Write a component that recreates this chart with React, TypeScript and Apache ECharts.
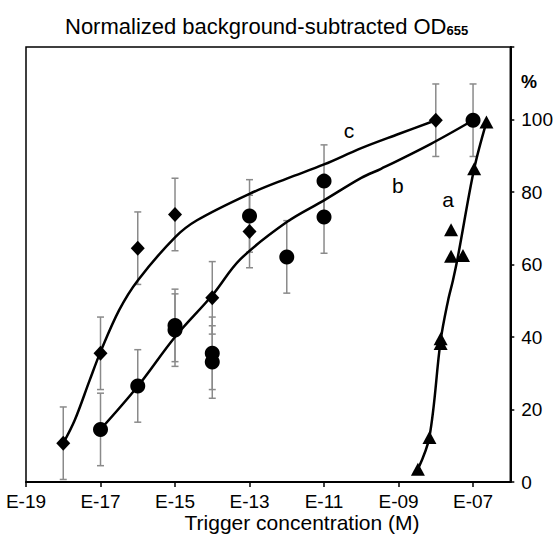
import React, { useEffect, useRef } from "react";
import * as echarts from "echarts";

// Axis ticks (x in log10 of molar concentration)
const xTickValues = [-19, -17, -15, -13, -11, -9, -7];
const yLabelValues = [0, 20, 40, 60, 80, 100];
const yTickValues = [0, 20, 40, 60, 80, 100, 120];

// Series c (diamonds)
const cX = [-18, -17, -16, -15, -14, -13, -8];
const cY = [10.7, 35.5, 64.5, 73.8, 50.8, 69.1, 99.8];
const cErr = [10, 10, 10, 10, 10, 10, 10];

// Series b (circles)
const bX = [-17, -16, -15, -15, -14, -14, -13, -12, -11, -11, -7];
const bY = [14.5, 26.5, 43.2, 41.9, 35.5, 33.1, 73.4, 62.1, 83.0, 73.1, 99.8];
const bErr = [10, 10, 10, 10, 10, 10, 10, 10, 10, 10, 10];

// Series a (triangles)
const aX = [-8.48, -8.17, -7.87, -7.87, -7.59, -7.59, -7.27, -6.97, -6.64];
const aY = [3.5, 12.3, 39.5, 38.2, 69.6, 62.3, 62.5, 86.4, 99.3];

// Fitted curves
const curveCX = [-18, -17.69, -17.29, -17, -16.5, -16, -15, -14.41, -13, -12, -11, -10, -9, -8];
const curveCY = [10.7, 17.1, 28.1, 35.9, 47.4, 55.6, 67.5, 72.2, 79.5, 83.7, 87.6, 92.1, 96, 99.8];

const curveBX = [-17, -16, -15, -14, -13.25, -12, -11, -10, -9.47, -8.13, -7];
const curveBY = [14.5, 26.4, 40, 51.5, 61.4, 71.7, 77.7, 83.9, 86.4, 93.3, 99.8];

const curveAX = [-8.48, -8.17, -7.87, -7.67, -7.54, -7.4, -6.97, -6.64];
const curveAY = [3.5, 12.5, 39, 50.1, 55.6, 62.5, 86.4, 99.3];

// Curve letters
const letterText = ["a", "b", "c"];
const letterX = [-7.67, -9.02, -10.33];
const letterY = [77.9, 81.8, 97];

const FONT = "Liberation Sans, Arial, sans-serif";

const zip = (xs: number[], ys: number[]) => xs.map((x, i) => [x, ys[i]]);
const zip3 = (xs: number[], ys: number[], es: number[]) => xs.map((x, i) => [x, ys[i], es[i]]);

const errStyle = { stroke: "#8a8a8a", lineWidth: 1.5 };

function errorRender(params: any, api: any) {
  const x = api.value(0);
  const y = api.value(1);
  const e = api.value(2);
  const top = api.coord([x, y + e]);
  const bot = api.coord([x, y - e]);
  const hw = 3.5;
  return {
    type: "group",
    children: [
      { type: "line", shape: { x1: top[0], y1: top[1], x2: bot[0], y2: bot[1] }, style: errStyle },
      { type: "line", shape: { x1: top[0] - hw, y1: top[1], x2: top[0] + hw, y2: top[1] }, style: errStyle },
      { type: "line", shape: { x1: bot[0] - hw, y1: bot[1], x2: bot[0] + hw, y2: bot[1] }, style: errStyle },
    ],
  };
}

const fmtX = (v: number) => {
  const a = Math.abs(Math.round(v));
  return "E" + (v < 0 ? "-" : "") + (a < 10 ? "0" + a : String(a));
};

export default function App() {
  const ref = useRef<HTMLDivElement>(null);
  useEffect(() => {
    if (!ref.current) return;
    const chart = echarts.init(ref.current, undefined, { renderer: "svg" });
    const curveStyle = { color: "#000", width: 2.5 };
    const solid = { color: "#000", opacity: 1 };
    chart.setOption({
      animation: false,
      backgroundColor: "#fff",
      textStyle: { fontFamily: FONT },
      title: {
        text: "{a|Normalized background-subtracted OD}{b|655}",
        left: 60,
        top: 4,
        textStyle: {
          rich: {
            a: { fontSize: 22, fontFamily: FONT, fontWeight: "normal", color: "#000", lineHeight: 28, verticalAlign: "bottom" },
            b: { fontSize: 13, fontFamily: FONT, fontWeight: "bold", color: "#000", lineHeight: 10, verticalAlign: "bottom" },
          },
        },
      },
      grid: {
        left: 26,
        right: 45,
        top: 47,
        bottom: 65,
        show: true,
        borderColor: "#000",
        borderWidth: 1.5,
        backgroundColor: "transparent",
      },
      xAxis: {
        type: "value",
        min: -19,
        max: -6,
        position: "bottom",
        axisLine: { show: true, lineStyle: { color: "#000", width: 2 } },
        axisTick: { show: true, customValues: xTickValues, length: 5, lineStyle: { color: "#000", width: 1.5 } },
        axisLabel: {
          show: true,
          customValues: xTickValues,
          formatter: fmtX,
          fontSize: 19,
          color: "#000",
          margin: 10,
          fontFamily: FONT,
        },
        splitLine: { show: false },
      },
      yAxis: {
        type: "value",
        min: 0,
        max: 120,
        position: "right",
        axisLine: { show: true, lineStyle: { color: "#000", width: 2 } },
        axisTick: { show: true, customValues: yTickValues, length: 4, lineStyle: { color: "#000", width: 1.5 } },
        axisLabel: {
          show: true,
          customValues: yLabelValues,
          fontSize: 19,
          color: "#000",
          margin: 11,
          fontFamily: FONT,
        },
        splitLine: { show: false },
      },
      graphic: [
        {
          type: "text",
          left: 521,
          top: 73,
          style: { text: "%", font: "bold 18px " + FONT, fill: "#000" },
        },
        {
          type: "text",
          x: 302,
          y: 522,
          style: {
            text: "Trigger concentration (M)",
            font: "21px " + FONT,
            fill: "#000",
            textAlign: "center",
            textVerticalAlign: "middle",
          },
        },
      ],
      series: [
        { type: "custom", name: "err c", renderItem: errorRender, data: zip3(cX, cY, cErr), encode: { x: 0, y: 1 }, z: 1 },
        { type: "custom", name: "err b", renderItem: errorRender, data: zip3(bX, bY, bErr), encode: { x: 0, y: 1 }, z: 1 },
        { type: "line", name: "fit c", data: zip(curveCX, curveCY), smooth: 0.35, showSymbol: false, lineStyle: curveStyle, z: 2 },
        { type: "line", name: "fit b", data: zip(curveBX, curveBY), smooth: 0.35, showSymbol: false, lineStyle: curveStyle, z: 2 },
        { type: "line", name: "fit a", data: zip(curveAX, curveAY), smooth: 0.35, showSymbol: false, lineStyle: curveStyle, z: 2 },
        { type: "scatter", name: "c", data: zip(cX, cY), symbol: "diamond", symbolSize: [14, 15], itemStyle: solid, z: 3 },
        { type: "scatter", name: "b", data: zip(bX, bY), symbol: "circle", symbolSize: 15, itemStyle: solid, z: 3 },
        { type: "scatter", name: "a", data: zip(aX, aY), symbol: "triangle", symbolSize: [14, 13], itemStyle: solid, z: 3 },
        {
          type: "scatter",
          name: "letters",
          data: letterX.map((x, i) => ({ value: [x, letterY[i]], name: letterText[i] })),
          symbolSize: 0,
          itemStyle: { opacity: 1 },
          label: {
            show: true,
            position: "inside",
            formatter: (p: any) => p.name,
            fontSize: 21,
            color: "#000",
            fontFamily: FONT,
          },
          z: 4,
        },
      ],
    });
    return () => chart.dispose();
  }, []);
  return <div ref={ref} style={{ position: "fixed", left: 0, top: 0, width: 556, height: 547 }} />;
}
